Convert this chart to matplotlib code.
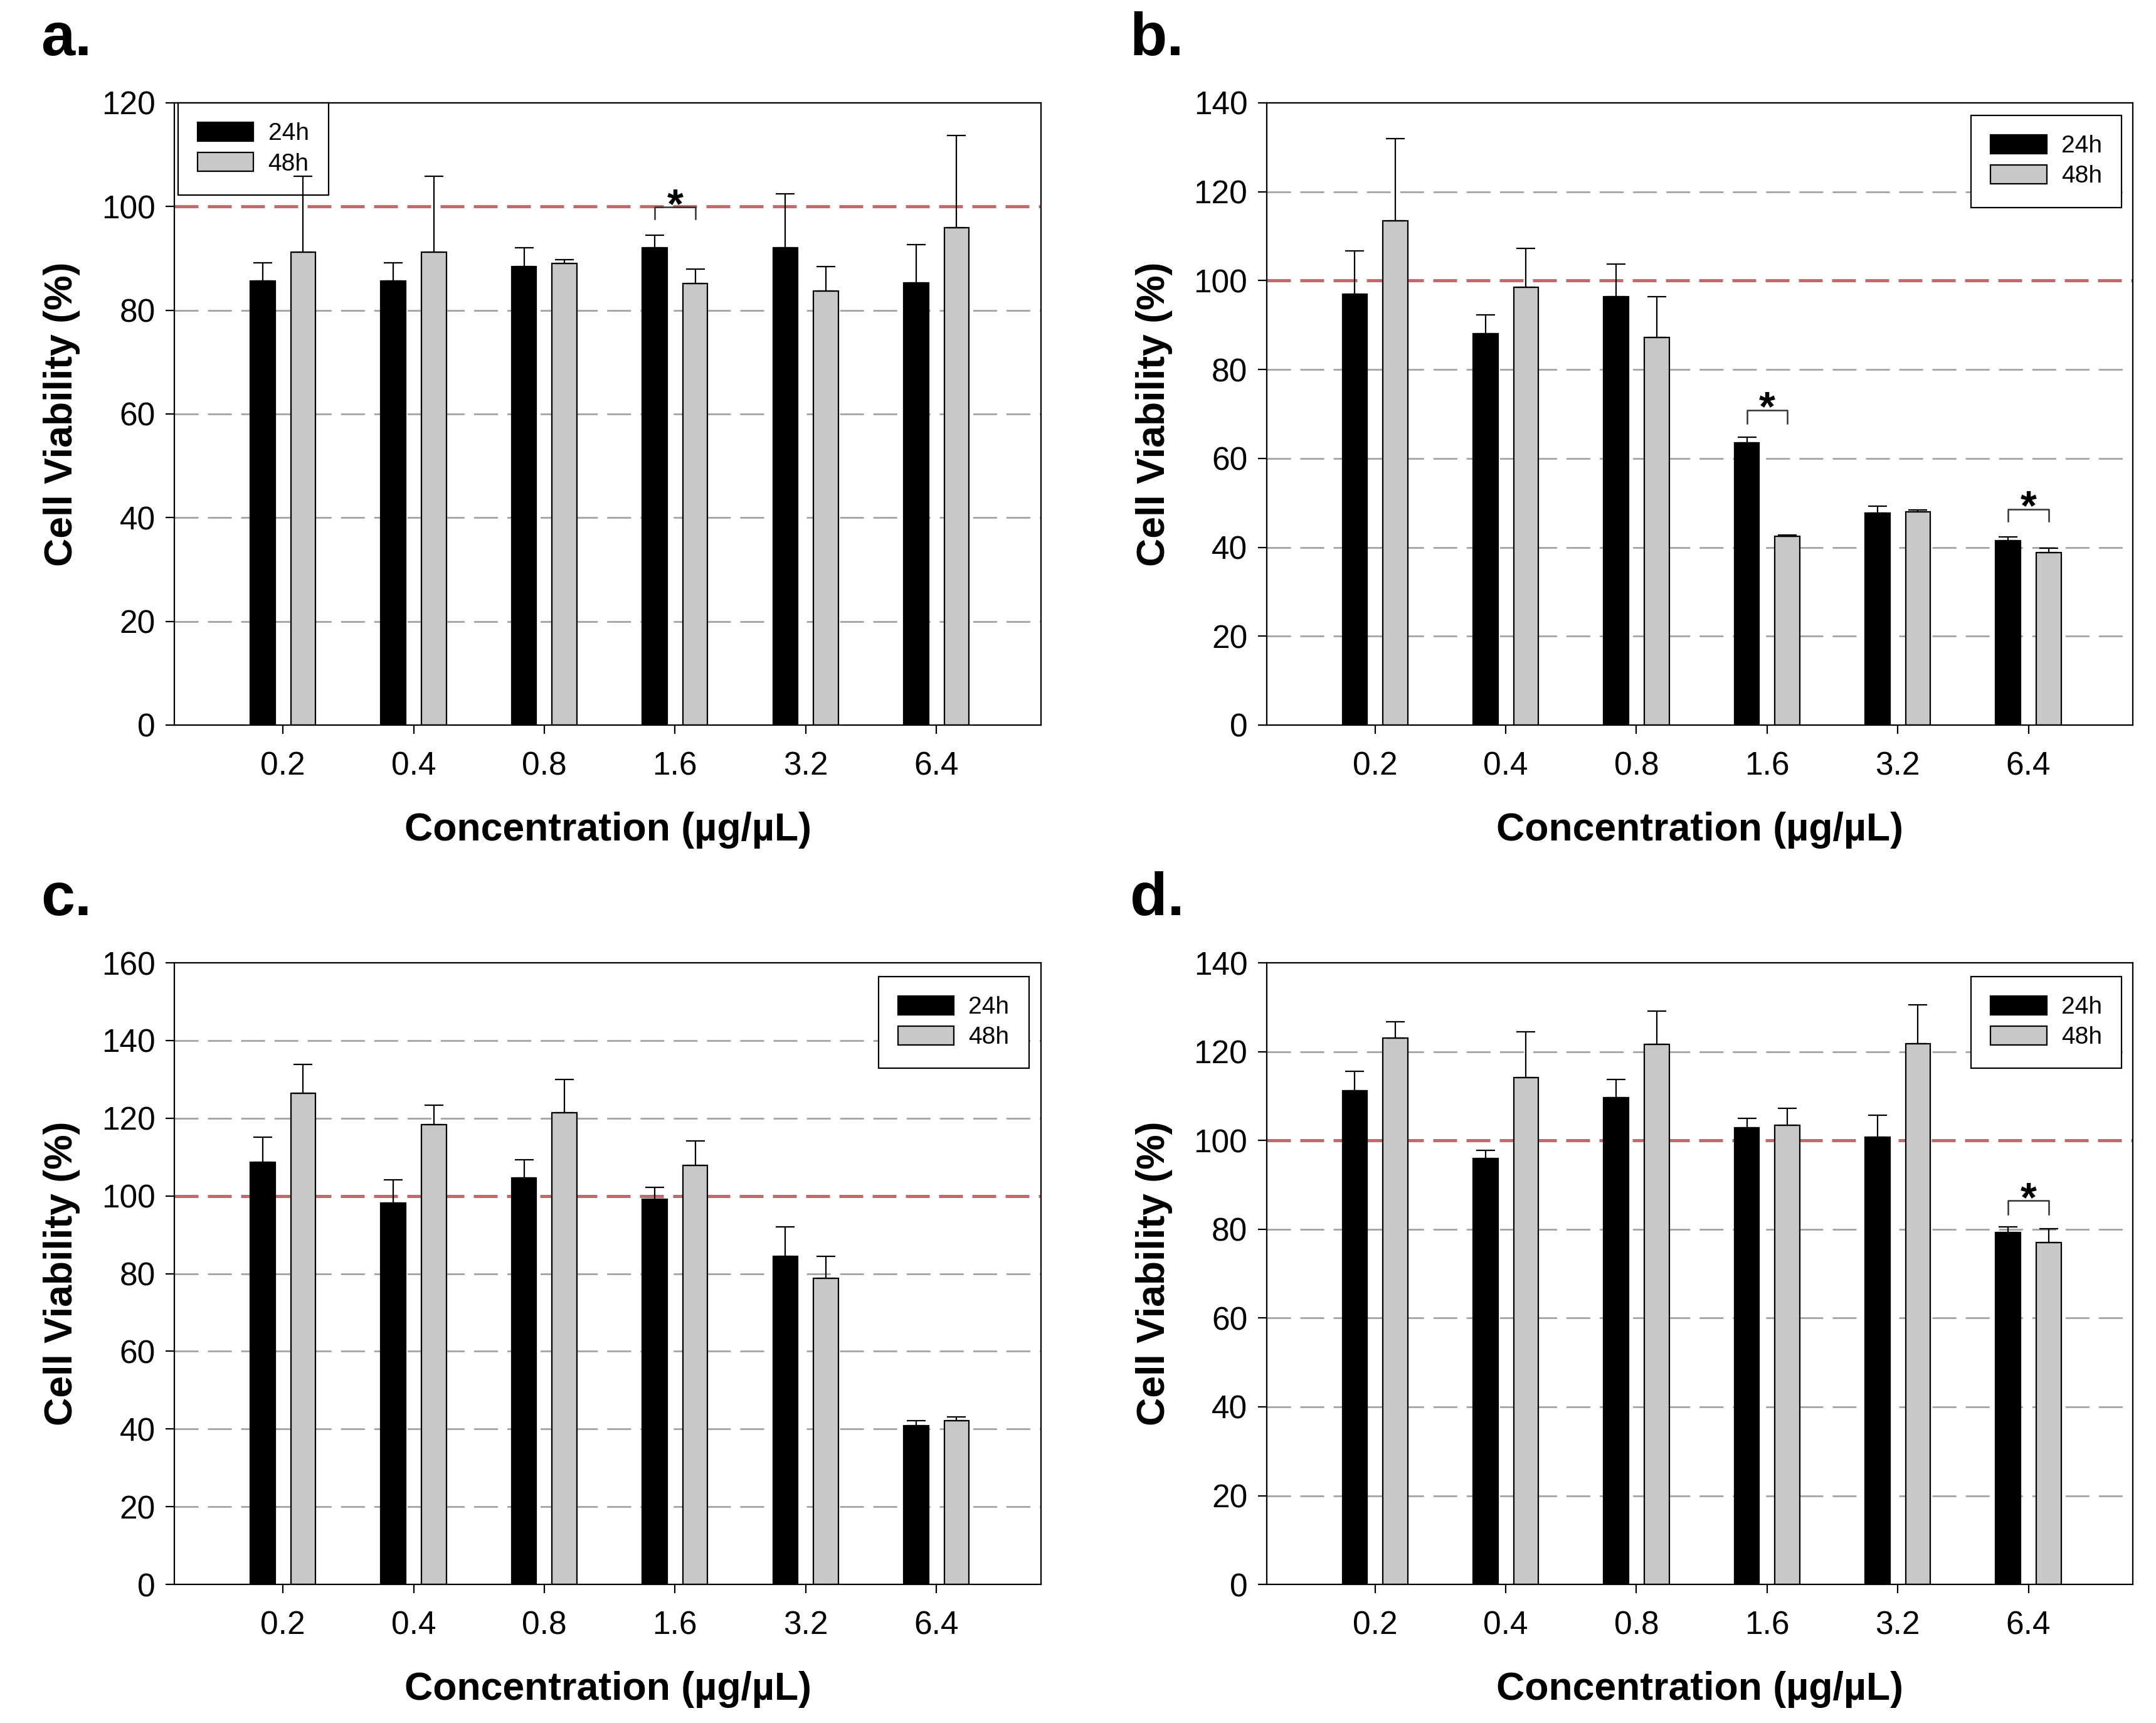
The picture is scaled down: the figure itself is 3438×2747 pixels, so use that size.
import numpy as np
import matplotlib
matplotlib.use('Agg')
import matplotlib.pyplot as plt
from matplotlib.patches import Patch

plt.rcParams['font.family'] = ['Liberation Sans', 'DejaVu Sans']

# x categories
conc = ['0.2', '0.4', '0.8', '1.6', '3.2', '6.4']

# panel a
a_24 = [85.6, 85.6, 88.4, 92.1, 92.1, 85.3]
a_24_err = [3.5, 3.5, 3.6, 2.4, 10.3, 7.4]
a_48 = [91.2, 91.2, 89.0, 85.1, 83.7, 95.9]
a_48_err = [14.6, 14.6, 0.8, 2.9, 4.7, 17.8]

# panel b
b_24 = [96.9, 88.0, 96.4, 63.5, 47.7, 41.5]
b_24_err = [9.8, 4.3, 7.3, 1.3, 1.6, 0.8]
b_48 = [113.5, 98.5, 87.2, 42.5, 48.0, 38.8]
b_48_err = [18.5, 8.7, 9.2, 0.3, 0.4, 1.0]

# panel c
c_24 = [108.6, 98.2, 104.7, 99.1, 84.5, 40.8]
c_24_err = [6.5, 6.0, 4.6, 3.1, 7.5, 1.4]
c_48 = [126.4, 118.3, 121.5, 107.9, 78.8, 42.2]
c_48_err = [7.4, 5.0, 8.5, 6.3, 5.7, 0.9]

# panel d
d_24 = [111.2, 95.9, 109.7, 102.9, 100.8, 79.2]
d_24_err = [4.4, 1.8, 4.0, 2.1, 4.9, 1.4]
d_48 = [123.0, 114.1, 121.7, 103.4, 121.8, 77.0]
d_48_err = [3.7, 10.4, 7.4, 3.9, 8.7, 3.1]

# significance brackets: (group index, bracket top, leg bottom)
a_sig = [(3, 99.9, 97.6)]
b_sig = [(3, 70.9, 67.9), (5, 48.6, 45.9)]
c_sig = []
d_sig = [(5, 86.4, 83.3)]

a_ticks = [0, 20, 40, 60, 80, 100, 120]
b_ticks = [0, 20, 40, 60, 80, 100, 120, 140]
c_ticks = [0, 20, 40, 60, 80, 100, 120, 140, 160]
d_ticks = [0, 20, 40, 60, 80, 100, 120, 140]

panels = [
    ('a.', a_24, a_24_err, a_48, a_48_err, a_sig, a_ticks, [0.0809, 0.5792, 0.4019, 0.3611], 'upper left', (0.004, 1.0), (0.019, 0.968)),
    ('b.', b_24, b_24_err, b_48, b_48_err, b_sig, b_ticks, [0.5875, 0.5792, 0.4018, 0.3611], 'upper right', (0.987, 0.980), (0.524, 0.968)),
    ('c.', c_24, c_24_err, c_48, c_48_err, c_sig, c_ticks, [0.0809, 0.0804, 0.4019, 0.3608], 'upper right', (0.986, 0.978), (0.019, 0.469)),
    ('d.', d_24, d_24_err, d_48, d_48_err, d_sig, d_ticks, [0.5875, 0.0804, 0.4018, 0.3608], 'upper right', (0.987, 0.978), (0.524, 0.469)),
]

black = '#000000'
grey = '#c8c8c8'
grid_col = '#a4a4a4'
red_col = '#bf6b6e'
bw = 0.19
off = 0.155

fig = plt.figure(figsize=(3438 / 200, 2747 / 200), dpi=200)

for lab, v24, e24, v48, e48, sig, ticks, rect, lloc, lanchor, lpos in panels:
    ax = fig.add_axes(rect)
    x = np.arange(len(conc))

    # grid lines
    for t in ticks[1:-1]:
        if t == 100:
            continue
        ax.axhline(t, color=grid_col, lw=1.0, dashes=(13.7, 5.4), zorder=0)
    ax.axhline(100, color=red_col, lw=1.8, dashes=(7.6, 3.0), zorder=0.5)

    ax.bar(x - off, v24, bw, color=black, edgecolor=black, lw=0.8, zorder=2)
    ax.bar(x + off, v48, bw, color=grey, edgecolor=black, lw=0.8, zorder=2)
    ax.errorbar(x - off, v24, yerr=[np.zeros(len(v24)), e24], fmt='none',
                ecolor=black, elinewidth=0.8, capsize=5.4, capthick=0.8, zorder=3)
    ax.errorbar(x + off, v48, yerr=[np.zeros(len(v48)), e48], fmt='none',
                ecolor=black, elinewidth=0.8, capsize=5.4, capthick=0.8, zorder=3)

    for i, top, leg in sig:
        ax.plot([i - off, i - off, i + off, i + off], [leg, top, top, leg],
                color='#333333', lw=0.9, zorder=4)
        ax.annotate('*', (i, top), xytext=(0, -6), textcoords='offset points',
                    ha='center', va='baseline', fontsize=24,
                    fontweight='bold', zorder=4)

    ax.set_xlim(-0.83, 5.8)
    ax.set_ylim(ticks[0], ticks[-1])
    ax.set_yticks(ticks)
    ax.set_xticks(x)
    ax.set_xticklabels(conc)
    ax.tick_params(axis='x', direction='out', length=5, width=0.8, pad=10, labelsize=18.5)
    ax.tick_params(axis='y', direction='out', length=5, width=0.8, pad=6, labelsize=18.5)
    for s in ax.spines.values():
        s.set_linewidth(0.8)

    ax.set_xlabel('Concentration (µg/µL)', fontsize=22.5, fontweight='bold', labelpad=17)
    ax.set_ylabel('Cell Viability (%)', fontsize=22.5, fontweight='bold', labelpad=12)

    handles = [Patch(facecolor=black, edgecolor=black, lw=0.8, label='24h'),
               Patch(facecolor=grey, edgecolor=black, lw=0.8, label='48h')]
    leg_ = ax.legend(handles=handles, loc=lloc, bbox_to_anchor=lanchor,
                     borderaxespad=0, fancybox=False, edgecolor=black,
                     fontsize=14, handlelength=2.3, handleheight=0.8,
                     labelspacing=0.3, borderpad=0.8, handletextpad=0.6,
                     framealpha=1)
    leg_.get_frame().set_linewidth(0.8)
    leg_.set_zorder(2.5)

    fig.text(lpos[0], lpos[1], lab, fontsize=35, fontweight='bold', ha='left', va='baseline')

fig.savefig('out.png', dpi=200)
